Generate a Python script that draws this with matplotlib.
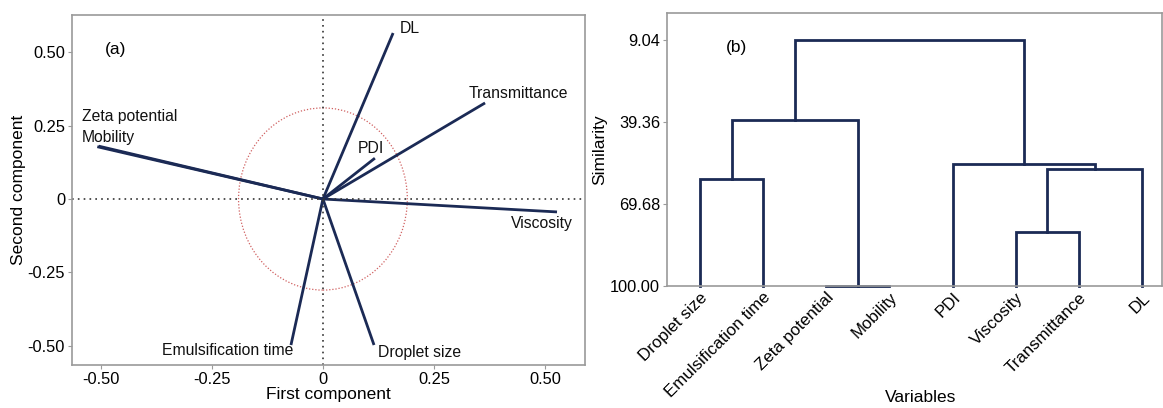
import matplotlib
matplotlib.use("Agg")
import matplotlib.pyplot as plt
from matplotlib.patches import Ellipse

plt.rcParams['font.family'] = ['Liberation Sans', 'DejaVu Sans']

# ---- PCA loadings (panel a) ----
var_names = ["DL", "Transmittance", "PDI", "Zeta potential", "Mobility",
             "Viscosity", "Emulsification time", "Droplet size"]
pc1 = [0.158, 0.365, 0.117, -0.505, -0.508, 0.527, -0.072, 0.115]
pc2 = [0.565, 0.327, 0.139, 0.180, 0.178, -0.044, -0.497, -0.497]
ax_ticks = [-0.50, -0.25, 0, 0.25, 0.50]
ax_ticklabels = ["-0.50", "-0.25", "0", "0.25", "0.50"]
circle_rx, circle_ry = 0.19, 0.31

# ---- Dendrogram (panel b) ----
leaves = ["Droplet size", "Emulsification time", "Zeta potential", "Mobility",
          "PDI", "Viscosity", "Transmittance", "DL"]
# merges: (node a, node b, similarity); nodes >= 8 are earlier merges
merges = [(0, 1, 60.6), (2, 3, 100.0), (8, 9, 38.5),
          (5, 6, 80.0), (11, 7, 56.8), (4, 12, 55.1), (10, 13, 9.04)]
sim_ticks = [9.04, 39.36, 69.68, 100.00]
sim_ticklabels = ["9.04", "39.36", "69.68", "100.00"]

navy = "#1b2a55"
gray = "#9a9a9a"

fig = plt.figure(figsize=(11.63, 4.08), dpi=100)

# Panel a
ax = fig.add_axes([0.0619, 0.1054, 0.4411, 0.8576])
for x, y in zip(pc1, pc2):
    ax.plot([0, x], [0, y], color=navy, lw=2, solid_capstyle='butt')
ax.axhline(0, color="#333333", lw=1.2, ls=(0, (1, 2.5)))
ax.axvline(0, color="#333333", lw=1.2, ls=(0, (1, 2.5)))
ax.add_patch(Ellipse((0, 0), 2 * circle_rx, 2 * circle_ry, fill=False,
                     ec="#d06060", lw=0.9, ls=(0, (1, 1.5))))
fs = 11.3
lab = dict(fontsize=fs, color="#111111", va='center')
ax.text(0.174, 0.582, var_names[0], ha='left', **lab)
ax.text(0.327, 0.36, var_names[1], ha='left', **lab)
ax.text(0.079, 0.173, var_names[2], ha='left', **lab)
ax.text(-0.543, 0.282, var_names[3], ha='left', **lab)
ax.text(-0.543, 0.211, var_names[4], ha='left', **lab)
ax.text(0.563, -0.082, var_names[5], ha='right', **lab)
ax.text(-0.067, -0.517, var_names[6], ha='right', **lab)
ax.text(0.125, -0.524, var_names[7], ha='left', **lab)
ax.text(-0.49, 0.51, "(a)", fontsize=12.5, ha='left', va='center')
ax.set_xlim(-0.565, 0.59)
ax.set_ylim(-0.565, 0.626)
ax.set_xticks(ax_ticks)
ax.set_xticklabels(ax_ticklabels)
ax.set_yticks(ax_ticks)
ax.set_yticklabels(ax_ticklabels)
ax.set_xlabel("First component", fontsize=12.5, labelpad=0)
ax.set_ylabel("Second component", fontsize=12.5, labelpad=1)
ax.tick_params(labelsize=11.8, color=gray, length=3, pad=2)
for s in ax.spines.values():
    s.set_color(gray)
    s.set_linewidth(1.2)

# Panel b
bx = fig.add_axes([0.5735, 0.2998, 0.4256, 0.6684])
pos = {i: float(i) for i in range(len(leaves))}
hgt = {i: 100.0 for i in range(len(leaves))}
for k, (a, b, s) in enumerate(merges):
    node = len(leaves) + k
    xa, xb = pos[a], pos[b]
    bx.plot([xa, xa, xb, xb], [hgt[a], s, s, hgt[b]], color=navy, lw=2,
            solid_joinstyle='miter', clip_on=False)
    pos[node] = (xa + xb) / 2
    hgt[node] = s
bx.set_xlim(-0.523, 7.317)
bx.set_ylim(100, -1.0)
bx.set_yticks(sim_ticks)
bx.set_yticklabels(sim_ticklabels)
bx.set_xticks(range(len(leaves)))
bx.set_xticklabels(leaves, rotation=45, ha='right', rotation_mode='anchor')
bx.tick_params(axis='x', length=0, pad=3, labelsize=12.2)
bx.tick_params(axis='y', length=3, pad=2, labelsize=11.8, color=gray)
bx.set_ylabel("Similarity", fontsize=12.5, labelpad=2)
fig.text(921 / 1163, 1 - 398 / 408, "Variables", fontsize=12.5,
         ha='center', va='center')
bx.text(0.41, 11.7, "(b)", fontsize=12.5, ha='left', va='center')
for s in bx.spines.values():
    s.set_color(gray)
    s.set_linewidth(1.2)

fig.savefig("out.png", dpi=100)
